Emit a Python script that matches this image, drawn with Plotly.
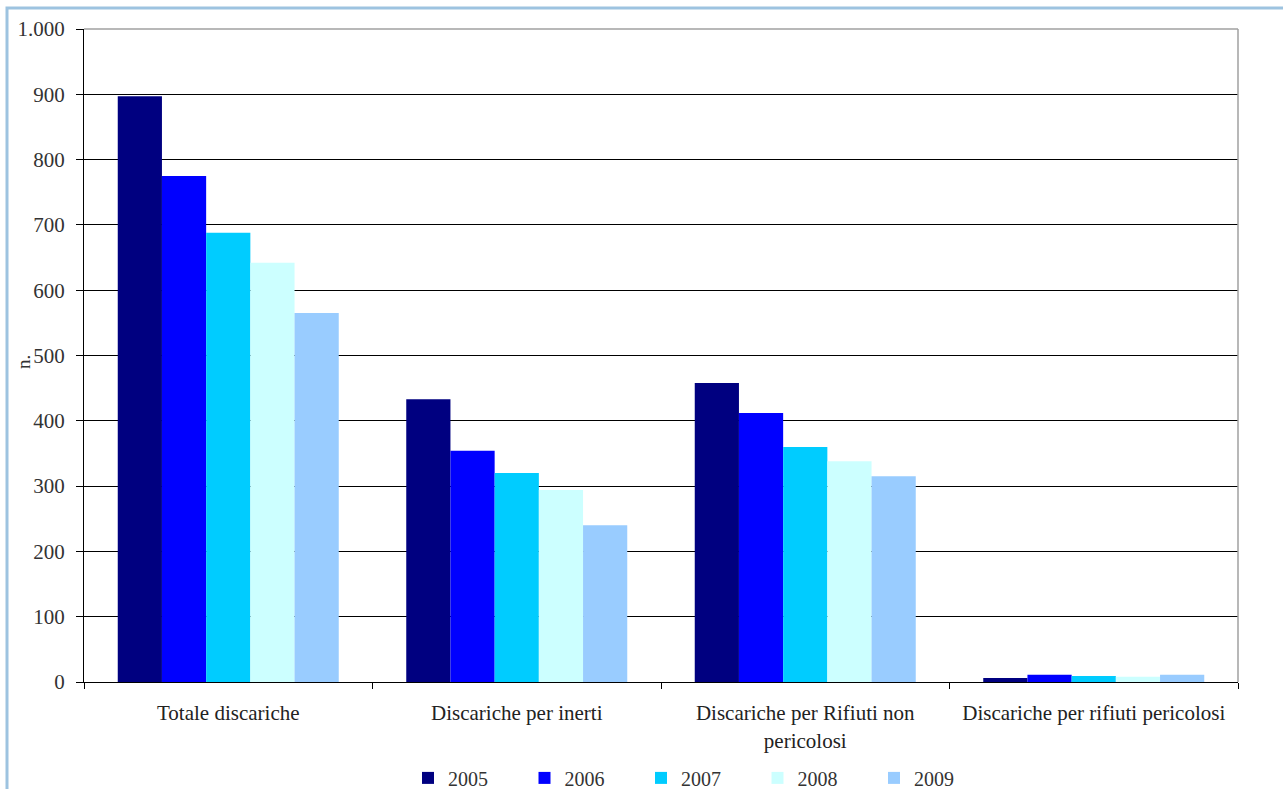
import plotly.graph_objects as go

categories = ["Totale discariche", "Discariche per inerti",
              "Discariche per Rifiuti non<br>pericolosi", "Discariche per rifiuti pericolosi"]
years = ["2005", "2006", "2007", "2008", "2009"]
v2005 = [897, 433, 458, 6]
v2006 = [775, 354, 412, 11]
v2007 = [688, 320, 360, 9]
v2008 = [642, 294, 338, 8]
v2009 = [565, 240, 315, 11]
series = [v2005, v2006, v2007, v2008, v2009]
colors = ["#000080", "#0000FF", "#00CCFF", "#CCFFFF", "#99CCFF"]

SERIF = "Liberation Serif"

fig = go.Figure()
for y, vals, c in zip(years, series, colors):
    fig.add_trace(go.Bar(name=y, x=categories, y=vals, marker_color=c,
                         marker_line_width=0))

fig.update_layout(
    width=1283, height=789,
    margin=dict(l=84, r=45, t=29, b=107, autoexpand=False),
    paper_bgcolor="white", plot_bgcolor="white",
    barmode="group", bargap=0.234, bargroupgap=0,
    separators=",.",
    showlegend=True,
    legend=dict(orientation="h", x=(408 - 84) / 1154, xanchor="left",
                y=-0.117, yanchor="top",
                font=dict(family=SERIF, size=20, color="#333333"),
                entrywidth=71.5, entrywidthmode="pixels", itemwidth=30,
                traceorder="normal"),
    font=dict(family=SERIF, size=20, color="#333333"),
    annotations=[dict(text="n.", xref="paper", yref="paper",
                      x=(23 - 84) / 1154, y=0.49, textangle=-90,
                      showarrow=False, xanchor="center", yanchor="middle",
                      font=dict(family=SERIF, size=19, color="#333333"))],
)
fig.update_yaxes(range=[0, 1000], dtick=100, tickformat=",.0f",
                 showgrid=True, gridcolor="black", gridwidth=1,
                 showline=True, linecolor="black", linewidth=1,
                 ticks="outside", ticklen=7, tickcolor="black",
                 ticklabelstandoff=7,
                 tickfont=dict(family=SERIF, size=21, color="#333333"),
                 zeroline=False)
fig.update_xaxes(showline=True, linecolor="black", linewidth=1,
                 ticks="outside", ticklen=6, tickcolor="black", tickson="boundaries",
                 ticklabelstandoff=12,
                 tickfont=dict(family=SERIF, size=21, color="#222222"),
                 showgrid=False)

# plot frame top and right (gray)
fig.add_shape(type="line", xref="paper", yref="paper", x0=0, x1=1, y0=1, y1=1,
              line=dict(color="#A0A0A0", width=1.5), layer="above")
fig.add_shape(type="line", xref="paper", yref="paper", x0=1, x1=1, y0=0, y1=1,
              line=dict(color="#A0A0A0", width=1.5), layer="above")
# outer light-blue chart border
fig.add_shape(type="rect", xref="paper", yref="paper",
              x0=(7 - 84) / 1154, x1=1.2, y0=-0.3, y1=1 + (29 - 8) / 653,
              line=dict(color="#9DC3E0", width=3), layer="below")

fig.write_html("out.html")
